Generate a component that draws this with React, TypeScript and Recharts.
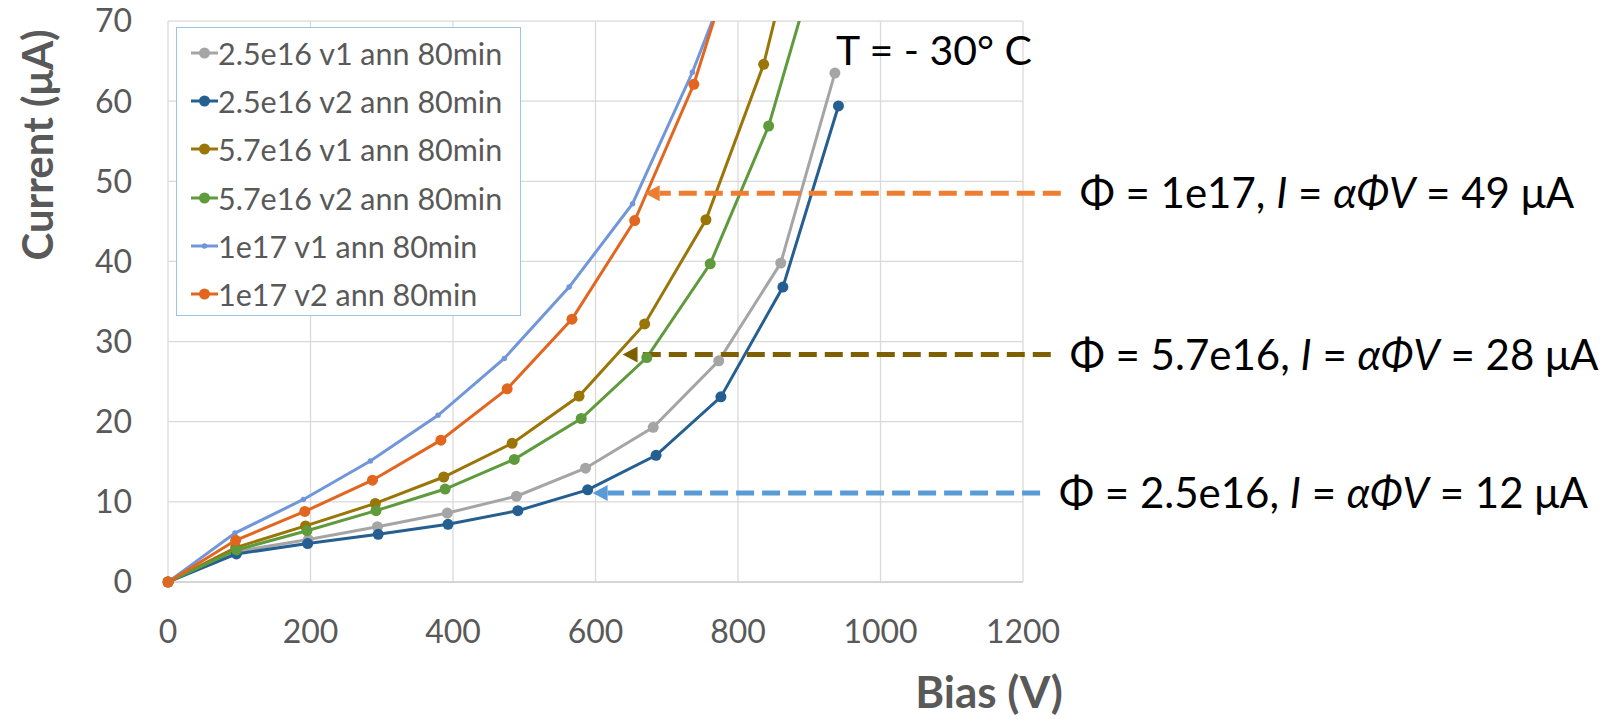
import React from 'react';
import {
  LineChart,
  Line,
  XAxis,
  YAxis,
  CartesianGrid,
  Legend,
  ReferenceLine,
} from 'recharts';

// bias (V) and current (uA) per measured series
const g1Bias = [0, 96, 197, 294, 392, 489, 586, 681, 773, 860, 936];
const g1Curr = [0, 3.8, 5.3, 6.9, 8.6, 10.7, 14.2, 19.3, 27.6, 39.8, 63.5];
const b2Bias = [0, 96, 196, 295, 393, 491, 589, 685, 776, 863, 941];
const b2Curr = [0, 3.5, 4.8, 5.95, 7.2, 8.9, 11.5, 15.8, 23.1, 36.8, 59.4];
const o1Bias = [0, 95, 193, 291, 387, 483, 577, 669, 755, 836, 915];
const o1Curr = [0, 4.3, 7.0, 9.8, 13.1, 17.3, 23.2, 32.2, 45.2, 64.6, 93];
const n2Bias = [0, 96, 195, 292, 389, 486, 580, 672, 761, 843, 920];
const n2Curr = [0, 4.0, 6.4, 8.9, 11.6, 15.3, 20.4, 28.0, 39.7, 56.9, 80.4];
const l1Bias = [0, 94, 190, 284, 379, 472, 563, 652, 736, 825];
const l1Curr = [0, 6.1, 10.3, 15.1, 20.8, 27.9, 36.8, 47.2, 63.6, 84];
const r2Bias = [0, 95, 192, 287, 383, 476, 567, 655, 738, 826];
const r2Curr = [0, 5.2, 8.8, 12.7, 17.7, 24.1, 32.8, 45.1, 62.1, 87];

const seriesNames = [
  '2.5e16 v1 ann 80min',
  '2.5e16 v2 ann 80min',
  '5.7e16 v1 ann 80min',
  '5.7e16 v2 ann 80min',
  '1e17 v1 ann 80min',
  '1e17 v2 ann 80min',
];
const seriesColors = ['#A5A5A5', '#255E91', '#9A7508', '#5F9A3C', '#7196D9', '#E2661F'];
const seriesDotR = [5.5, 5.5, 5.5, 5.5, 2.75, 5.5];
const seriesBias = [g1Bias, b2Bias, o1Bias, n2Bias, l1Bias, r2Bias];
const seriesCurr = [g1Curr, b2Curr, o1Curr, n2Curr, l1Curr, r2Curr];

const xTicks = [0, 200, 400, 600, 800, 1000, 1200];
const yTicks = [0, 10, 20, 30, 40, 50, 60, 70];

// expected-current annotations
const annFlux = ['1e17', '5.7e16', '2.5e16'];
const annCurrent = ['49', '28', '12'];
const annLevel = [48.5, 28.4, 11.1];
const annTip = [669, 638, 596];
const annTail = [1253, 1239, 1224];
const annColors = ['#ED7D31', '#7F6000', '#5B9BD5'];

const FONT = 'Lato, "Noto Sans", sans-serif';

const Arrow = (p: any) => {
  const { x1, y1, x2, color, flux, current } = p;
  const head = 15;
  return (
    <g>
      <line x1={x1} y1={y1} x2={x2 + head} y2={y1} stroke={color} strokeWidth={5} strokeDasharray='18 8' />
      <polygon points={`${x2},${y1} ${x2 + head},${y1 - 8} ${x2 + head},${y1 + 8}`} fill={color} />
      <text x={x1 + 19} y={y1} dy='0.36em' fontSize={42} fill='#000' fontFamily={FONT}>
        {`Φ = ${flux}, `}
        <tspan fontStyle='italic'>I</tspan>
        {' = '}
        <tspan fontStyle='italic'>αΦV</tspan>
        {` = ${current} μA`}
      </text>
    </g>
  );
};

const renderLegend = (props: any) => {
  const payload = [...(props.payload || [])].sort(
    (a: any, b: any) => seriesNames.indexOf(a.value) - seriesNames.indexOf(b.value),
  );
  return (
    <div
      style={{
        width: 345,
        height: 289,
        boxSizing: 'border-box',
        border: '1.5px solid #9DC3E6',
        background: '#fff',
        paddingTop: 1,
        fontFamily: FONT,
      }}
    >
      {payload.map((entry: any, i: number) => {
        const idx = seriesNames.indexOf(entry.value);
        const r = seriesDotR[idx] ?? 5;
        return (
          <div key={i} style={{ height: 48.2, display: 'flex', alignItems: 'center', paddingLeft: 14 }}>
            <svg width={27} height={14} style={{ flexShrink: 0 }}>
              <line x1={0} y1={7} x2={27} y2={7} stroke={entry.color} strokeWidth={3} />
              <circle cx={13.5} cy={7} r={r} fill={entry.color} />
            </svg>
            <span style={{ fontSize: 30.5, color: '#595959', whiteSpace: 'nowrap' }}>{entry.value}</span>
          </div>
        );
      })}
    </div>
  );
};

export default function App() {
  return (
    <div style={{ position: 'absolute', left: 0, top: 0, background: '#fff' }}>
      <LineChart width={1619} height={719} margin={{ top: 21, right: 596, bottom: 77, left: 68 }}>
        <CartesianGrid stroke='#D9D9D9' strokeWidth={1.25} />
        <XAxis
          type='number'
          dataKey='v'
          domain={[0, 1200]}
          ticks={xTicks}
          height={60}
          tickSize={0}
          tickMargin={38}
          axisLine={{ stroke: '#D0D0D0', strokeWidth: 1.5 }}
          tick={{ fill: '#595959', fontSize: 32, fontFamily: FONT }}
          allowDataOverflow
        />
        <YAxis
          type='number'
          domain={[0, 70]}
          ticks={yTicks}
          width={100}
          tickSize={0}
          tickMargin={36}
          axisLine={false}
          tick={{ fill: '#595959', fontSize: 32, fontFamily: FONT }}
          allowDataOverflow
        />
        {seriesNames.map((name, s) => (
          <Line
            key={name}
            name={name}
            data={seriesBias[s].map((v, k) => ({ v, i: seriesCurr[s][k] }))}
            dataKey='i'
            stroke={seriesColors[s]}
            strokeWidth={3}
            dot={{ r: seriesDotR[s], fill: seriesColors[s], stroke: seriesColors[s], strokeWidth: 0, clipDot: false }}
            activeDot={false}
            isAnimationActive={false}
          />
        ))}
        {annFlux.map((flux, k) => (
          <ReferenceLine
            key={flux}
            ifOverflow='visible'
            segment={[
              { x: annTail[k], y: annLevel[k] },
              { x: annTip[k], y: annLevel[k] },
            ]}
            shape={(p: any) => <Arrow {...p} color={annColors[k]} flux={flux} current={annCurrent[k]} />}
          />
        ))}
        <Legend
          layout='vertical'
          align='center'
          verticalAlign='middle'
          content={renderLegend}
          wrapperStyle={{ position: 'absolute', left: 176, top: 27, width: 345, height: 289 }}
        />
        <text x={836} y={65} fontSize={41} fill='#000' fontFamily={FONT}>
          T = - 30° C
        </text>
        <text
          transform='translate(38 145) rotate(-90)'
          textAnchor='middle'
          dy='0.36em'
          fontSize={42}
          fontWeight='bold'
          fill='#595959'
          fontFamily={FONT}
        >
          Current (μA)
        </text>
        <text x={989} y={708} textAnchor='middle' fontSize={44} fontWeight='bold' fill='#595959' fontFamily={FONT}>
          Bias (V)
        </text>
      </LineChart>
    </div>
  );
}
